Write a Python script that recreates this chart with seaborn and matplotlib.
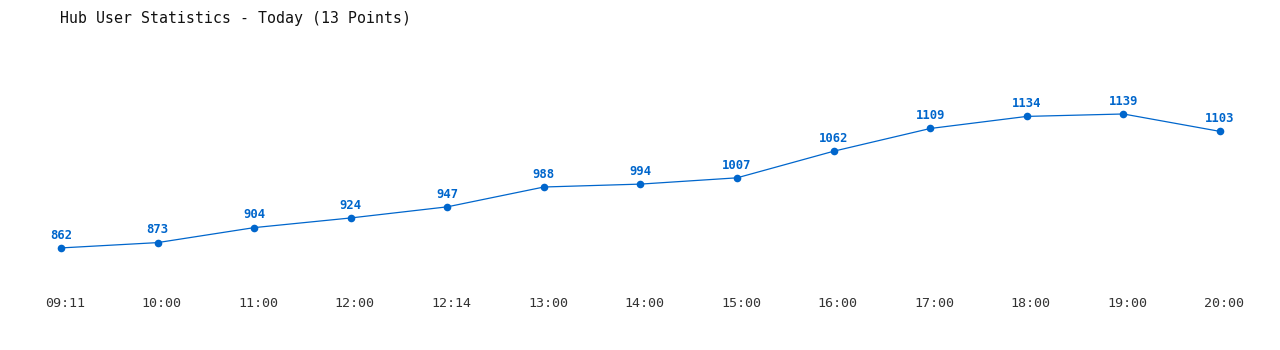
import matplotlib
matplotlib.use("Agg")
import matplotlib.pyplot as plt
import matplotlib.transforms as mtransforms
import seaborn as sns
import pandas as pd

times = ["09:11", "10:00", "11:00", "12:00", "12:14", "13:00", "14:00",
         "15:00", "16:00", "17:00", "18:00", "19:00", "20:00"]
users = [862, 873, 904, 924, 947, 988, 994, 1007, 1062, 1109, 1134, 1139, 1103]

sns.set_theme(style="white")
plt.rcParams["font.family"] = ["DejaVu Sans Mono", "DejaVu Sans"]

color = "#0066cc"
df = pd.DataFrame({"pos": range(len(times)), "users": users})

fig = plt.figure(figsize=(12.8, 3.5), dpi=100)
ax = fig.add_axes([12.7 / 1280, 60 / 350, 1255.6 / 1280, 250 / 350])

sns.lineplot(data=df, x="pos", y="users", ax=ax, color=color, linewidth=0.9,
             marker="o", markersize=5.5, markeredgewidth=0, markerfacecolor=color)

for i, v in enumerate(users):
    ax.annotate(str(v), (i, v), xytext=(0, 4.5), textcoords="offset points",
                ha="center", va="bottom", fontsize=8.8, fontweight="bold", color=color)

ax.set_xlim(-0.5, len(times) - 0.5)
ax.set_ylim(775, 1292)
ax.set_xticks(range(len(times)))
ax.set_xticklabels(times, fontsize=9.6, color="#333333")
ax.set_yticks([])
ax.set_xlabel("")
ax.set_ylabel("")
ax.tick_params(axis="x", length=0, pad=5)
shift = mtransforms.ScaledTranslation(4 / 100, 0, fig.dpi_scale_trans)
for lbl in ax.get_xticklabels():
    lbl.set_transform(lbl.get_transform() + shift)
for s in ax.spines.values():
    s.set_visible(False)

fig.text(60 / 1280, 1 - 18 / 350, "Hub User Statistics - Today (13 Points)",
         fontsize=10.7, color="#111111", ha="left", va="center")

fig.savefig("out.png", dpi=100, facecolor="white")
